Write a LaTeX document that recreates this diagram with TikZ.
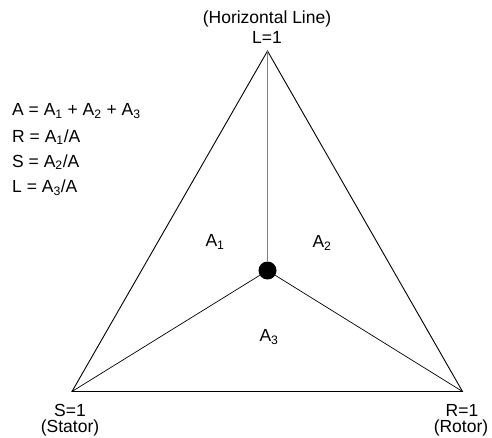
\documentclass[tikz,border=0pt]{standalone}
\usepackage{fontspec}
\setmainfont{Liberation Sans}
\usetikzlibrary{positioning}

\begin{document}
\begin{tikzpicture}[x=1pt,y=-1pt,font=\fontsize{17.5}{19}\selectfont]
\tikzset{eqline/.style={anchor=west,inner sep=0pt}}
\useasboundingbox (0,0) rectangle (492,438);
\coordinate (lvert) at (267.5,51);
\coordinate (svert) at (72,391.5);
\coordinate (rvert) at (462.5,391.5);
\node[circle,fill=black,inner sep=0pt,minimum size=18pt] (point) at (267.5,270.5) {};

\node[inner sep=0pt] (slabel) at (70,410) {S=1};
\node[inner sep=0pt] (stator) at (70,428) {(Stator)};
\node[inner sep=0pt] (rlabel) at (462,410) {R=1};
\node[inner sep=0pt] (rotor) at (461,428) {(Rotor)};
\node[inner sep=0pt] (llabel) at (267,37) {L=1};
\node[inner sep=0pt] (horiz) at (267,19) {(Horizontal Line)};

\node (aone) at (215,242) {A\textsubscript{1}};
\node (atwo) at (322,243) {A\textsubscript{2}};
\node (athree) at (269,337) {A\textsubscript{3}};

\node[eqline] (eqa) at (12,111) {A = A\textsubscript{1} + A\textsubscript{2} + A\textsubscript{3}};
\node[eqline] (eqr) at (12,137) {R = A\textsubscript{1}/A};
\node[eqline] (eqs) at (12,162) {S = A\textsubscript{2}/A};
\node[eqline] (eql) at (12,188) {L = A\textsubscript{3}/A};

\draw[line width=0.9pt] (svert) -- (rvert) -- (lvert) -- cycle;
\draw[line width=0.7pt] (point) -- (svert);
\draw[line width=0.7pt] (point) -- (rvert);
\draw[gray,line width=0.9pt] (point) -- (lvert);
\end{tikzpicture}
\end{document}
